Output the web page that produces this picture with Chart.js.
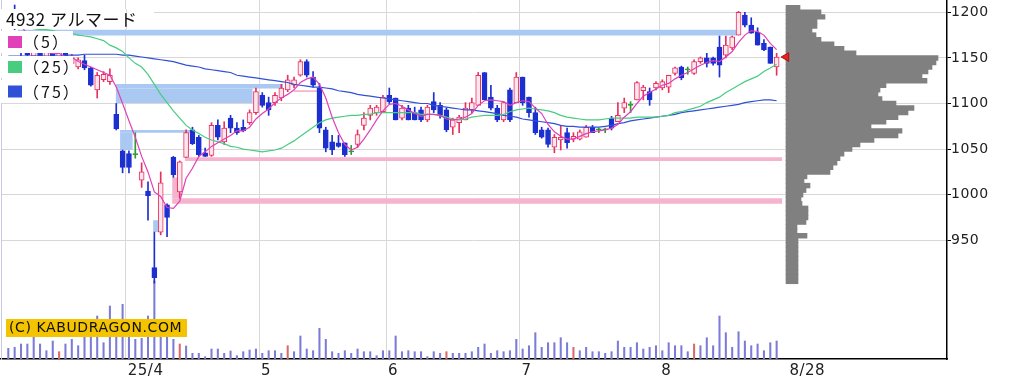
<!DOCTYPE html>
<html><head><meta charset="utf-8">
<script src="https://cdn.jsdelivr.net/npm/chart.js@4.4.1/dist/chart.umd.min.js"></script>
<style>html,body{margin:0;padding:0;background:#fff;overflow:hidden}#wrap{width:1009px;height:384px}</style>
</head><body><div id="wrap"><canvas id="c" width="1009" height="384"></canvas></div>
<script>
// ---------- DATA (4932 アルマード, daily, 2025/3 - 2025/8/28) ----------
const titleText = '4932 アルマード';
const xTickPos = [18.5, 39.5, 59.5, 80.5, 102.5, 122.7];
const xTickLabels = ['25/4', '5', '6', '7', '8', '8/28'];
const yTickValues = [950, 1000, 1050, 1100, 1150, 1200];

const openP = [1192,1199,1170,1156,1152,1166,1150,1156,1148,1156,1144,
 1140,1147,1139,1115,1126,1124,1088,1048,1045,1044,
 1016,1004,920,959,989,1041,1003,1041,1071,1063,
 1046,1043,1076,1058,1084,1073,1074,1079,1090,1109,
 1101,1101,1106,1115,1120,1131,1146,1129,1117,1071,
 1058,1057,1057,1047,1055,1076,1087,1090,1091,1109,
 1106,1084,1095,1090,1093,1082,1102,1098,1093,1074,
 1079,1082,1093,1098,1134,1107,1095,1082,1115,1101,
 1129,1107,1090,1071,1071,1052,1060,1068,1061,1061,
 1063,1074,1071,1071,1084,1080,1095,1098,1104,1114,
 1113,1117,1117,1118,1133,1140,1137,1133,1146,1150,
 1150,1162,1153,1161,1175,1197,1186,1178,1166,1162,
 1140];
const highP = [1203,1208,1174,1162,1170,1170,1160,1158,1160,1158,1154,
 1150,1153,1140,1134,1135,1138,1100,1049,1048,1068,
 1035,1014,959,1025,990,1042,1037,1071,1074,1065,
 1051,1079,1082,1080,1087,1079,1082,1093,1117,1112,
 1107,1112,1121,1131,1129,1148,1148,1135,1122,1074,
 1065,1065,1057,1054,1071,1090,1098,1098,1109,1117,
 1106,1098,1098,1096,1096,1098,1112,1101,1095,1084,
 1087,1101,1106,1134,1134,1120,1098,1102,1117,1134,
 1129,1107,1096,1074,1073,1066,1076,1073,1068,1071,
 1076,1076,1073,1073,1086,1101,1106,1102,1124,1120,
 1117,1124,1126,1131,1140,1141,1140,1148,1151,1155,
 1151,1174,1174,1174,1201,1200,1194,1183,1170,1162,
 1155];
const lowP = [1188,1181,1150,1148,1150,1145,1140,1146,1145,1140,1138,
 1138,1137,1119,1106,1124,1121,1071,1024,1024,1040,
 1008,972,903,956,954,1019,996,1041,1055,1042,
 1042,1042,1060,1055,1068,1066,1069,1077,1088,1096,
 1087,1098,1103,1113,1117,1130,1129,1118,1068,1047,
 1044,1052,1042,1044,1052,1071,1082,1087,1090,1100,
 1082,1082,1082,1082,1080,1080,1090,1084,1069,1066,
 1068,1082,1090,1098,1104,1093,1080,1080,1080,1101,
 1098,1085,1066,1062,1052,1046,1049,1051,1058,1060,
 1063,1068,1068,1068,1071,1080,1090,1090,1104,1104,
 1098,1115,1115,1112,1131,1126,1132,1132,1144,1140,
 1142,1129,1150,1159,1175,1184,1177,1164,1158,1144,
 1131];
const closeP = [1199,1186,1156,1153,1166,1150,1156,1149,1156,1144,1150,
 1148,1139,1120,1131,1132,1131,1072,1030,1030,1044,
 1025,999,909,1013,975,1022,1036,1068,1056,1044,
 1042,1076,1063,1073,1073,1068,1070,1090,1113,1098,
 1093,1109,1117,1126,1126,1146,1131,1120,1073,1051,
 1049,1053,1044,1047,1066,1084,1095,1096,1107,1102,
 1082,1095,1082,1082,1082,1096,1093,1087,1071,1082,
 1085,1095,1101,1131,1104,1095,1082,1101,1082,1129,
 1101,1090,1068,1063,1055,1063,1063,1057,1064,1069,
 1074,1068,1071,1071,1073,1087,1101,1098,1123,1118,
 1104,1122,1124,1131,1139,1128,1137,1146,1150,1144,
 1144,1142,1164,1173,1200,1186,1177,1164,1159,1144,
 1151];
const ma5 = [1190,1192,1185,1176,1172,1162,1156,1155,1155,1151,1151,
 1146,1143,1140,1137,1134,1131,1118,1100,1081,1063,
 1042,1025,1003,998,986,985,993,1018,1029,1042,
 1047,1053,1057,1061,1065,1070,1070,1074,1083,1089,
 1094,1101,1106,1110,1115,1123,1127,1129,1121,1106,
 1085,1068,1055,1049,1052,1061,1071,1082,1092,1099,
 1100,1097,1093,1089,1086,1088,1088,1087,1083,1082,
 1083,1085,1089,1098,1103,1104,1103,1102,1098,1101,
 1103,1102,1095,1089,1077,1069,1064,1061,1061,1064,
 1067,1069,1070,1071,1073,1077,1085,1091,1100,1108,
 1112,1116,1120,1122,1127,1131,1134,1138,1142,1145,
 1147,1146,1151,1157,1167,1175,1180,1179,1175,1166,
 1159];
const ma25 = [1186,1185,1184,1183,1182,1181,1181,1180,1178,1178,1177,
 1175,1174,1173,1171,1169,1164,1161,1157,1150,1144,
 1140,1132,1121,1110,1101,1092,1084,1076,1071,1067,
 1063,1060,1058,1056,1053,1052,1050,1049,1048,1047,
 1048,1049,1051,1055,1059,1064,1069,1074,1079,1082,
 1084,1085,1086,1087,1087,1088,1088,1090,1090,1090,
 1090,1090,1090,1090,1088,1088,1088,1087,1085,1083,
 1082,1083,1085,1086,1087,1087,1087,1088,1091,1093,
 1094,1095,1094,1093,1092,1090,1087,1085,1084,1083,
 1082,1082,1082,1083,1084,1084,1084,1084,1085,1085,
 1085,1085,1086,1087,1090,1091,1093,1095,1097,1101,
 1104,1107,1112,1116,1120,1124,1127,1130,1135,1139,
 1143];
const ma75 = [1152,1152,1152,1152,1152,1152,1152,1152,1152,1153,1153,
 1153,1154,1154,1154,1154,1154,1154,1153,1153,1152,
 1151,1150,1149,1148,1147,1146,1144,1142,1141,1140,
 1138,1137,1136,1135,1134,1131,1130,1129,1128,1127,
 1126,1125,1124,1123,1121,1120,1119,1118,1118,1117,
 1116,1114,1113,1112,1110,1109,1108,1107,1106,1105,
 1104,1103,1102,1101,1100,1100,1098,1097,1096,1095,
 1094,1093,1093,1092,1091,1090,1089,1087,1086,1085,
 1083,1082,1081,1080,1079,1078,1076,1075,1075,1074,
 1074,1074,1074,1075,1076,1078,1079,1081,1082,1083,
 1084,1085,1086,1087,1088,1090,1091,1092,1093,1094,
 1095,1096,1097,1098,1099,1101,1102,1103,1104,1104,
 1103];
const volume = [107,117,150,150,223,150,83,180,73,150,197,
 133,223,223,430,163,530,223,547,223,197,
 207,430,780,240,223,197,150,130,57,57,
 23,100,100,57,80,33,73,90,100,57,
 83,83,57,133,73,230,100,83,307,197,
 73,57,83,57,100,73,73,33,83,83,
 230,73,83,73,73,23,73,57,73,57,
 57,57,73,117,150,57,83,73,83,197,
 100,133,263,117,163,163,213,163,117,83,
 117,73,73,57,73,180,117,117,163,100,
 117,133,83,163,133,133,73,150,133,213,
 133,430,263,117,273,180,133,150,83,163,
 180];
const volRedDays = [8, 27, 44, 69, 89, 108];
const lastPrice = 1151;

// price-volume profile (price bin centre, volume)
const profilePrice = [1205,1200,1195,1190,1185,1180,1175,1170,1165,1160,1155,1150,1145,1140,1135,1130,1125,1120,1115,1110,1105,1100,1095,1090,1085,1080,1075,1070,1065,1060,1055,1050,1045,1040,1035,1030,1025,1020,1015,1010,1005,1000,995,990,985,980,975,970,965,960,955,950,945,940,935,930,925,920,915,910,905];
const profileVol   = [14,35,39,31,31,26,30,35,48,58,70,152,150,146,142,136,141,100,94,92,96,110,128,122,112,100,85,116,112,88,74,66,58,54,51,47,44,21,18,24,20,17,15,16,22,22,22,20,11,11,21,12,12,12,12,12,12,12,12,12,12];

// unfilled price gaps (windows): start/end index, low/high price, kind
const bandStart = [1.5, 16.9, 16.9, 17.6, 17.6, 22.8, 25.8, 25.8, 27.8, 44.9];
const bandEnd   = [114.7, 38.5, 43.3, 19.6, 28.6, 23.6, 26.9, 121.9, 121.9, 48.8];
const bandLow   = [1174.5, 1100.6, 1116.5, 1049, 1068, 959, 996, 990, 1037, 1112.6];
const bandHigh  = [1181, 1116.5, 1121.4, 1068, 1071, 972, 1019, 996, 1041, 1114.6];
const bandKind  = ['down','down','down','down','down','down','up','up','up','up'];

const legendLabels = ['（5）', '（25）', '（75）'];

// ---------- STYLE ----------
const C_UP = '#e8305e', C_UP_FILL = '#fde6ee', C_DN = '#1c2fd0', C_FLAT = '#2f9a2f';
const C_MA5 = '#e040b8', C_MA25 = '#48cc80', C_MA75 = '#3050d8';
const C_BAND_DN = '#a9c9f2', C_BAND_UP = '#f5b3cd';
const GRID = '#d8d8d8';
const X_MIN = -1.15, X_MAX = 147.83, Y_MIN = 819.85, Y_MAX = 1213.49;

Chart.defaults.font.family = "'DejaVu Sans', sans-serif";

const idx = openP.map((_, i) => i);
const kind = idx.map(i => closeP[i] > openP[i] ? 'up' : (closeP[i] < openP[i] ? 'down' : 'flat'));
const lineCol = kind.map(k => k === 'up' ? C_UP : k === 'down' ? C_DN : C_FLAT);
const bodyFill = kind.map(k => k === 'up' ? C_UP_FILL : k === 'down' ? C_DN : C_FLAT);
const volCol = idx.map(i => volRedDays.includes(i) ? '#d86a6a' : '#7c7cd8');

const datasets = [];
bandStart.forEach((s, k) => {
  datasets.push({
    type: 'line', data: [{x: s, y: bandHigh[k]}, {x: bandEnd[k], y: bandHigh[k]}],
    fill: {value: bandLow[k]}, backgroundColor: bandKind[k] === 'up' ? C_BAND_UP : C_BAND_DN,
    borderColor: 'rgba(0,0,0,0)', borderWidth: 0, pointRadius: 0, order: 20,
    xAxisID: 'x', yAxisID: 'y'
  });
});
datasets.push({
  type: 'bar', data: idx.map(i => ({x: i, y: volume[i]})), xAxisID: 'x', yAxisID: 'yV',
  backgroundColor: volCol, barThickness: 1.4, grouped: false, order: 12
});
datasets.push({
  type: 'bar', indexAxis: 'y', data: profilePrice.map((p, k) => ({x: profileVol[k], y: p})),
  xAxisID: 'xP', yAxisID: 'yP', backgroundColor: '#808080', barThickness: 4.8, grouped: false, order: 11
});
datasets.push({
  type: 'bar', data: idx.map(i => ({x: i, y: [lowP[i], highP[i]]})), xAxisID: 'x', yAxisID: 'y',
  backgroundColor: lineCol, barThickness: 1, grouped: false, order: 6
});
datasets.push({
  type: 'bar', data: idx.map(i => ({x: i, y: [openP[i], closeP[i]]})), xAxisID: 'x', yAxisID: 'y',
  backgroundColor: bodyFill, borderColor: lineCol, borderWidth: 1, borderSkipped: false,
  barThickness: 5, minBarLength: 1, grouped: false, order: 5
});
[[ma75, C_MA75, 3], [ma25, C_MA25, 2], [ma5, C_MA5, 1]].forEach(([arr, col, ord]) => {
  datasets.push({
    type: 'line', data: idx.map(i => ({x: i, y: arr[i]})), borderColor: col, borderWidth: 1.2,
    pointRadius: 0, fill: false, tension: 0, order: ord, xAxisID: 'x', yAxisID: 'y'
  });
});
datasets.push({
  type: 'line', data: [{x: closeP.length - 1 + 1.5, y: lastPrice}], showLine: false,
  pointStyle: 'triangle', rotation: -90, pointRadius: 5, backgroundColor: '#e82020',
  borderColor: '#b01010', borderWidth: 1, order: 0, xAxisID: 'x', yAxisID: 'y'
});

const overlay = {
  id: 'overlay',
  beforeDraw(chart) { chart.ctx.letterSpacing = '0.5px'; },
  beforeDatasetsDraw(chart) { chart.ctx.letterSpacing = '0px'; },
  afterDatasetsDraw(chart) {
    const ctx = chart.ctx;
    ctx.save();
    // title
    ctx.fillStyle = '#fff';
    ctx.fillRect(1, 9, 153, 20);
    const gx = Math.round(chart.scales.x.getPixelForValue(xTickPos[0])) + 0.5;
    ctx.strokeStyle = GRID; ctx.lineWidth = 1;
    ctx.beginPath(); ctx.moveTo(gx, 9); ctx.lineTo(gx, 29); ctx.stroke();
    ctx.fillStyle = '#111';
    ctx.textBaseline = 'middle';
    ctx.font = "17px 'Noto Sans CJK JP'";
    ctx.letterSpacing = '0.5px';
    ctx.fillText(titleText, 6, 19.5);
    // legend rows
    const rows = [[31, 22], [56, 22], [80, 23]];
    const cols = [C_MA5, C_MA25, C_MA75];
    ctx.font = "16px 'Noto Sans CJK JP'";
    ctx.letterSpacing = '2px';
    rows.forEach(([top, h], k) => {
      ctx.fillStyle = '#fff';
      ctx.fillRect(1, top, 72, h);
      const cy = top + h / 2;
      ctx.fillStyle = cols[k];
      ctx.fillRect(8, cy - 6, 14, 12);
      ctx.fillStyle = '#111';
      ctx.fillText(legendLabels[k], 23, cy);
    });
    // watermark
    ctx.fillStyle = '#f5c400';
    ctx.fillRect(6, 319, 181, 18);
    ctx.fillStyle = '#111';
    ctx.font = "14px 'DejaVu Sans'";
    ctx.letterSpacing = '0.6px';
    ctx.fillText('(C) KABUDRAGON.COM', 9, 328.5);
    ctx.restore();
    ctx.letterSpacing = '0px';
  }
};

new Chart(document.getElementById('c'), {
  type: 'bar',
  data: {datasets},
  options: {
    responsive: false, animation: false, devicePixelRatio: 1, events: [],
    layout: {padding: 0, autoPadding: false},
    plugins: {legend: {display: false}, tooltip: {enabled: false}},
    scales: {
      x: {
        type: 'linear', axis: 'x', position: 'bottom', min: X_MIN, max: X_MAX, offset: false,
        afterBuildTicks: s => { s.ticks = xTickPos.map(v => ({value: v})); },
        afterFit: s => { s.height = 25; s.paddingLeft = 0; s.paddingRight = 0; },
        ticks: {autoSkip: false, maxRotation: 0, minRotation: 0, align: 'start', padding: 3,
          labelOffset: 2, font: {size: 15}, color: '#222', callback: (v, i) => xTickLabels[i]},
        grid: {offset: false, drawTicks: false, lineWidth: 1,
          color: c => c.index === xTickLabels.length - 1 ? 'rgba(0,0,0,0)' : GRID},
        border: {color: '#000', width: 1.5}
      },
      y: {
        type: 'linear', axis: 'y', position: 'right', min: Y_MIN, max: Y_MAX, offset: false, stacked: false,
        afterBuildTicks: s => { s.ticks = yTickValues.map(v => ({value: v})); },
        afterFit: s => { s.width = 62; s.paddingTop = 0; s.paddingBottom = 0; },
        ticks: {padding: 0, font: {size: 14}, color: '#222', callback: v => String(v)},
        grid: {offset: false, color: GRID, tickLength: 4, tickColor: '#000'},
        border: {color: '#000', width: 1.5}
      },
      yP: {type: 'linear', axis: 'y', display: false, min: Y_MIN, max: Y_MAX, offset: false, stacked: false},
      xP: {type: 'linear', axis: 'x', display: false, min: -785, max: 161, offset: false, stacked: false},
      yV: {
        type: 'linear', axis: 'y', position: 'left', min: 0, max: 3590, offset: false, stacked: false,
        afterFit: s => { s.width = 1; s.paddingTop = 0; s.paddingBottom = 0; },
        ticks: {display: false}, grid: {display: false, drawTicks: false},
        border: {color: '#c8c8e4', width: 1}
      }
    }
  },
  plugins: [overlay]
});
</script>
</body></html>
